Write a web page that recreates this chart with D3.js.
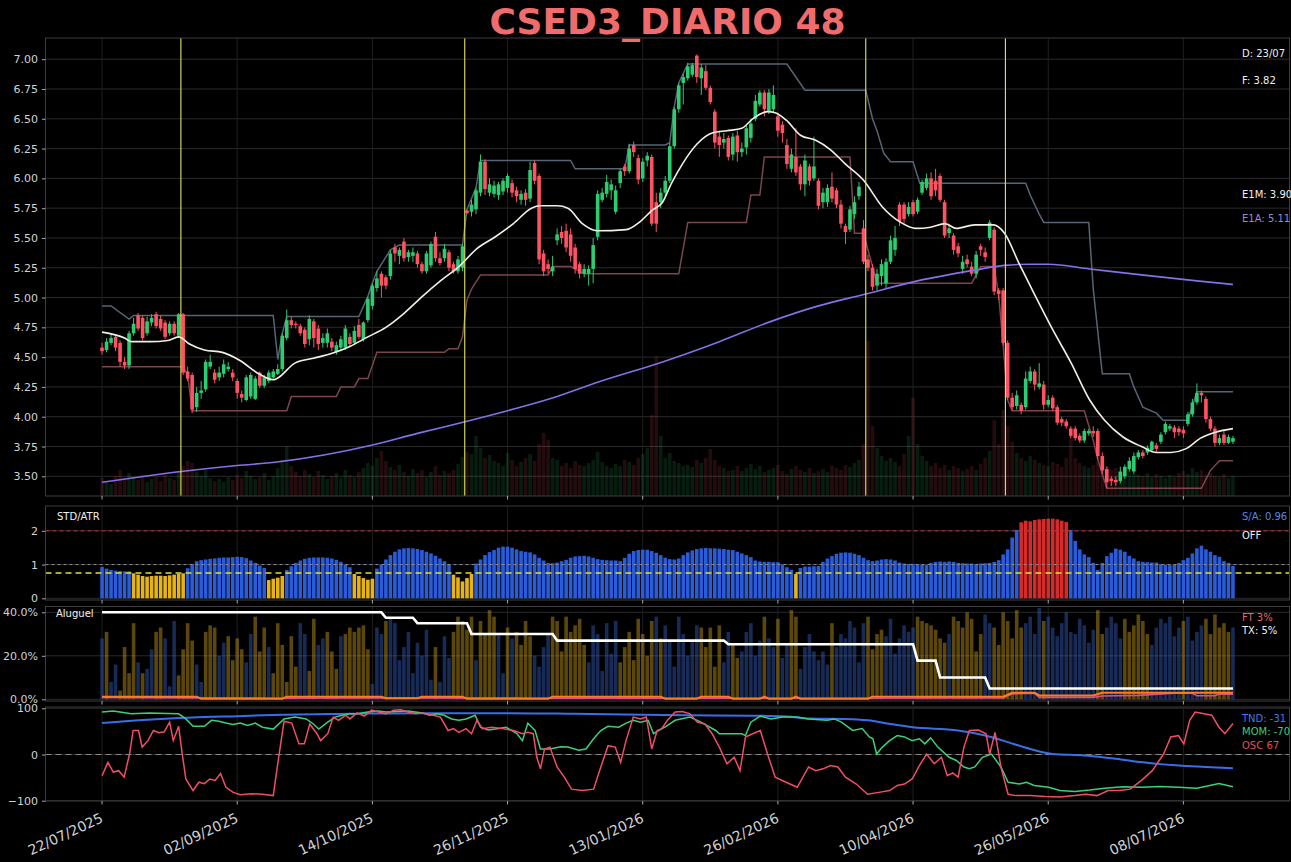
<!DOCTYPE html>
<html><head><meta charset="utf-8">
<script src="https://cdn.jsdelivr.net/npm/d3@7"></script>
<style>html,body{margin:0;padding:0;background:#000;}svg{display:block;}</style>
</head><body><div id="chart"></div>
<script>
// ---------------- DATA ----------------
const tickIdx = [0,30,60,90,120,150,180,210,240];
const tickLabels = ["22/07/2025","02/09/2025","14/10/2025","26/11/2025","13/01/2026","26/02/2026","10/04/2026","26/05/2026","08/07/2026"];
const signalIdx = [17.5, 80.5, 169.5, 200.5];

const open = [
4.58,4.56,4.62,4.67,4.62,4.46,4.43,4.70,4.85,4.83,
4.70,4.79,4.86,4.82,4.79,4.70,4.78,4.68,4.86,4.38,
4.35,4.08,4.20,4.23,4.42,4.37,4.33,4.36,4.40,4.37,
4.30,4.19,4.14,4.17,4.15,4.37,4.26,4.30,4.33,4.36,
4.40,4.66,4.81,4.78,4.76,4.73,4.65,4.80,4.74,4.62,
4.62,4.63,4.54,4.58,4.58,4.67,4.62,4.77,4.65,4.81,
4.93,5.08,5.20,5.17,5.18,5.42,5.35,5.47,5.34,5.35,
5.37,5.28,5.22,5.27,5.51,5.33,5.33,5.38,5.28,5.22,
5.25,5.73,5.72,5.74,5.88,6.14,5.88,5.87,5.86,5.89,
5.92,5.96,5.90,5.82,5.88,5.83,6.13,6.02,5.37,5.28,
5.22,5.48,5.55,5.56,5.53,5.42,5.28,5.20,5.20,5.24,
5.51,5.82,5.87,5.90,5.72,5.96,6.10,6.06,6.28,6.17,
6.00,6.15,6.18,5.80,5.80,5.88,5.98,6.27,6.58,6.80,
6.84,6.87,7.03,6.84,6.90,6.76,6.56,6.35,6.30,6.34,
6.20,6.36,6.22,6.26,6.34,6.50,6.62,6.72,6.56,6.58,
6.52,6.45,6.28,6.08,6.18,6.10,5.95,6.10,6.00,5.98,
5.80,5.80,5.93,5.90,5.78,5.60,5.57,5.70,5.85,5.58,
5.32,5.25,5.10,5.18,5.12,5.30,5.40,5.78,5.78,5.70,
5.80,5.72,5.88,5.92,6.00,5.98,6.02,5.80,5.54,5.52,
5.43,5.24,5.32,5.26,5.20,5.43,5.38,5.50,5.57,5.06,
5.06,4.62,4.16,4.09,4.10,4.08,4.30,4.38,4.25,4.27,
4.10,4.16,4.08,3.98,3.96,3.90,3.90,3.84,3.80,3.86,
3.88,3.88,3.67,3.56,3.48,3.47,3.46,3.50,3.56,3.54,
3.66,3.70,3.70,3.72,3.76,3.79,3.87,3.90,3.91,3.90,
3.89,3.94,4.02,4.12,4.20,4.15,3.98,3.90,3.78,3.85,
3.78,3.79];
const high = [
4.62,4.66,4.70,4.69,4.64,4.50,4.72,4.83,4.87,4.85,
4.84,4.86,4.88,4.85,4.81,4.80,4.80,4.87,4.87,4.42,
4.37,4.25,4.30,4.48,4.52,4.40,4.42,4.48,4.46,4.40,
4.32,4.22,4.35,4.37,4.34,4.38,4.35,4.39,4.40,4.44,
4.70,4.90,4.84,4.80,4.78,4.75,4.85,4.82,4.77,4.70,
4.74,4.66,4.63,4.68,4.77,4.70,4.76,4.82,4.80,5.01,
5.12,5.22,5.22,5.19,5.40,5.45,5.42,5.50,5.40,5.42,
5.39,5.30,5.39,5.47,5.55,5.38,5.45,5.40,5.30,5.35,
5.45,5.74,5.82,5.92,6.20,6.16,6.00,5.98,5.97,6.00,
6.04,5.99,5.93,5.90,5.91,6.14,6.15,6.04,5.40,5.32,
5.35,5.58,5.60,5.62,5.58,5.45,5.30,5.28,5.27,5.50,
5.90,5.92,6.03,5.99,5.94,6.08,6.12,6.29,6.31,6.20,
6.17,6.22,6.20,5.88,5.92,6.02,6.30,6.60,6.80,6.88,
6.97,6.97,7.04,6.96,6.95,6.78,6.58,6.40,6.38,6.36,
6.38,6.40,6.30,6.44,6.50,6.70,6.74,6.74,6.75,6.78,
6.55,6.48,6.33,6.25,6.42,6.12,6.20,6.12,6.35,6.00,
5.92,5.95,6.05,5.92,5.82,5.62,5.77,5.85,5.97,5.65,
5.36,5.28,5.24,5.32,5.33,5.52,5.60,5.80,5.80,5.80,
5.82,5.84,5.99,6.04,6.05,6.08,6.04,5.82,5.62,5.54,
5.46,5.35,5.36,5.30,5.39,5.45,5.42,5.65,5.59,5.08,
5.08,4.64,4.20,4.22,4.12,4.38,4.42,4.40,4.45,4.30,
4.18,4.18,4.10,4.00,3.98,3.92,3.92,3.86,3.90,3.90,
3.92,3.90,3.70,3.58,3.50,3.50,3.58,3.60,3.66,3.70,
3.72,3.72,3.76,3.80,3.78,3.87,3.96,3.94,3.93,3.92,
3.92,4.04,4.15,4.28,4.22,4.17,4.00,3.92,3.85,3.88,
3.85,3.84];
const low = [
4.52,4.54,4.60,4.55,4.42,4.40,4.40,4.68,4.72,4.64,
4.68,4.76,4.74,4.72,4.65,4.68,4.68,4.66,4.35,4.30,
4.03,4.04,4.15,4.21,4.40,4.28,4.30,4.33,4.38,4.30,
4.15,4.12,4.13,4.15,4.14,4.24,4.24,4.28,4.31,4.35,
4.38,4.64,4.74,4.74,4.68,4.58,4.60,4.58,4.56,4.58,
4.58,4.55,4.52,4.55,4.56,4.59,4.60,4.65,4.63,4.79,
4.90,5.05,5.00,5.07,5.15,5.30,5.28,5.30,5.30,5.30,
5.25,5.20,5.20,5.25,5.30,5.27,5.30,5.22,5.20,5.20,
5.22,5.70,5.68,5.70,5.85,5.86,5.85,5.84,5.82,5.86,
5.88,5.84,5.80,5.78,5.77,5.80,5.95,5.28,5.18,5.20,
5.18,5.44,5.45,5.38,5.30,5.20,5.16,5.17,5.10,5.12,
5.48,5.80,5.84,5.82,5.70,5.92,6.02,6.04,6.18,5.95,
5.97,6.10,5.60,5.55,5.75,5.85,5.96,6.25,6.55,6.62,
6.82,6.85,6.80,6.70,6.74,6.62,6.25,6.18,6.25,6.15,
6.15,6.14,6.18,6.20,6.30,6.48,6.60,6.52,6.54,6.55,
6.35,6.30,6.08,6.05,6.02,5.90,5.85,5.94,5.98,5.74,
5.75,5.76,5.80,5.75,5.58,5.45,5.55,5.66,5.82,5.28,
5.22,5.06,5.06,5.10,5.08,5.28,5.35,5.60,5.62,5.68,
5.68,5.70,5.86,5.90,5.82,5.85,5.80,5.50,5.50,5.36,
5.34,5.20,5.25,5.18,5.16,5.35,5.30,5.48,5.02,4.98,
4.60,4.14,4.05,4.06,4.02,4.06,4.28,4.22,4.23,4.06,
4.08,4.05,3.93,3.92,3.90,3.82,3.80,3.78,3.78,3.84,
3.83,3.64,3.52,3.40,3.42,3.42,3.44,3.48,3.54,3.52,
3.64,3.65,3.68,3.70,3.70,3.77,3.85,3.88,3.82,3.84,
3.82,3.92,4.00,4.10,4.12,3.95,3.88,3.75,3.76,3.76,
3.77,3.77];
const close = [
4.55,4.63,4.66,4.58,4.46,4.43,4.70,4.78,4.74,4.66,
4.80,4.83,4.76,4.74,4.67,4.78,4.70,4.86,4.37,4.32,
4.06,4.20,4.22,4.46,4.46,4.31,4.37,4.44,4.42,4.33,
4.20,4.16,4.33,4.35,4.32,4.26,4.33,4.37,4.38,4.40,
4.68,4.81,4.77,4.77,4.70,4.61,4.82,4.66,4.61,4.66,
4.70,4.58,4.60,4.65,4.74,4.61,4.72,4.67,4.79,4.99,
5.10,5.16,5.10,5.10,5.37,5.37,5.40,5.33,5.38,5.38,
5.28,5.22,5.37,5.45,5.33,5.29,5.41,5.25,5.22,5.32,
5.43,5.71,5.78,5.90,6.14,5.91,5.95,5.94,5.95,5.98,
6.02,5.88,5.85,5.87,5.82,6.07,5.98,5.32,5.22,5.24,
5.26,5.53,5.50,5.42,5.35,5.24,5.20,5.24,5.24,5.44,
5.87,5.88,5.97,5.95,5.90,6.06,6.06,6.25,6.22,5.99,
6.14,6.19,5.62,5.62,5.88,5.98,6.27,6.58,6.78,6.85,
6.94,6.95,6.85,6.93,6.76,6.64,6.30,6.28,6.33,6.18,
6.35,6.22,6.25,6.42,6.46,6.65,6.72,6.58,6.72,6.70,
6.40,6.38,6.12,6.20,6.05,5.95,6.15,5.98,6.10,5.77,
5.88,5.92,5.83,5.78,5.62,5.55,5.74,5.80,5.93,5.30,
5.25,5.09,5.20,5.28,5.30,5.48,5.50,5.64,5.66,5.76,
5.70,5.82,5.97,6.00,5.85,5.90,5.82,5.52,5.58,5.40,
5.37,5.30,5.28,5.20,5.36,5.40,5.34,5.63,5.05,5.03,
4.62,4.16,4.08,4.18,4.05,4.32,4.38,4.27,4.28,4.10,
4.14,4.07,3.95,3.95,3.92,3.84,3.82,3.80,3.88,3.88,
3.86,3.67,3.55,3.45,3.46,3.45,3.54,3.58,3.63,3.67,
3.70,3.67,3.74,3.79,3.73,3.85,3.94,3.92,3.87,3.87,
3.86,4.02,4.12,4.20,4.18,3.98,3.90,3.78,3.82,3.78,
3.83,3.82];
const volume = [
180,150,120,200,260,170,230,190,160,210,
140,170,190,150,220,180,160,250,300,350,
330,240,200,260,180,150,170,140,190,160,
210,180,250,200,170,190,230,160,200,280,
360,500,300,240,200,260,220,190,250,210,
170,200,230,180,260,210,190,240,280,330,
300,380,450,350,290,260,310,240,200,270,
230,260,190,240,300,210,250,230,260,320,
390,440,420,600,480,380,410,350,330,300,
430,360,300,340,380,420,350,520,630,560,
380,360,300,330,280,350,310,300,330,360,
440,340,300,280,320,300,360,340,310,380,
420,480,810,1400,600,380,430,350,330,300,
310,290,360,330,380,470,360,300,280,250,
260,300,250,280,320,270,300,240,260,280,
310,250,220,270,300,260,240,280,230,250,
270,240,300,280,260,310,290,330,360,520,
1550,700,480,400,350,380,340,300,420,600,
980,520,400,350,300,330,280,310,260,300,
280,250,270,300,260,320,380,450,760,520,
860,700,540,430,380,350,400,360,330,310,
300,340,320,290,380,690,380,330,300,280,
310,350,380,300,260,280,240,230,250,220,
210,200,230,190,220,200,180,210,190,230,
250,220,280,240,260,210,230,200,190,220,
180,200];

// E1M (monthly EMA) and E1A (yearly EMA): [bar index, price]
const e1mPts = [[0,4.71],[5,4.66],[6.5,4.63],[10.5,4.63],[14.6,4.64],[17,4.67],[19.4,4.61],[22.7,4.56],[26.7,4.54],[30.7,4.47],[34.8,4.36],[38,4.31],[38.8,4.32],[42.8,4.45],[46.9,4.49],[50.9,4.53],[55,4.59],[59,4.67],[63,4.75],[67.1,4.87],[71.1,5.01],[75.1,5.14],[79.2,5.26],[83.2,5.41],[87.3,5.51],[91.3,5.62],[95.3,5.75],[97.3,5.77],[101,5.77],[103.4,5.75],[106.6,5.62],[109.9,5.56],[116.3,5.57],[119.5,5.64],[122,5.73],[124.4,5.80],[126.4,5.96],[128.8,6.12],[132.1,6.29],[135.4,6.38],[138.7,6.40],[142,6.42],[144.4,6.50],[147.7,6.56],[149.4,6.55],[151.8,6.49],[155.1,6.36],[158.4,6.32],[161.7,6.24],[165,6.12],[169.1,5.98],[173.2,5.76],[177.3,5.63],[180.6,5.58],[183.9,5.59],[187.1,5.62],[189.6,5.58],[193.7,5.61],[197.8,5.61],[200.3,5.54],[203.6,5.28],[206.9,5.03],[211,4.73],[215.1,4.45],[219.2,4.14],[222.5,3.97],[226.6,3.83],[230.7,3.75],[234,3.70],[237.2,3.70],[240.5,3.73],[243.8,3.82],[247.1,3.87],[251,3.90]];
const e1aPts = [[0,3.45],[17.6,3.54],[30,3.59],[38.8,3.62],[59.8,3.76],[70,3.86],[80.8,3.96],[90,4.05],[99.4,4.15],[110,4.29],[124.4,4.46],[137,4.63],[148.5,4.80],[159,4.93],[169.5,5.03],[181,5.14],[193.7,5.23],[200.3,5.27],[206,5.28],[210,5.28],[219.2,5.24],[230.7,5.19],[243,5.14],[251,5.11]];
const upperPts = [[0,4.93],[2,4.93],[6,4.82],[7,4.85],[38,4.85],[39,4.48],[40,4.70],[41,4.84],[57,4.84],[59,5.01],[60,5.12],[61,5.22],[64,5.40],[66,5.44],[80,5.44],[81,5.74],[83,5.92],[84,6.15],[104,6.15],[105,6.08],[116,6.08],[117,6.28],[125,6.28],[126,6.30],[127,6.60],[128,6.80],[130,6.96],[152,6.96],[156,6.74],[169.5,6.74],[171,6.50],[172,6.40],[173.5,6.21],[175,6.14],[180,6.14],[181.5,5.96],[205,5.96],[206,5.86],[208,5.70],[209,5.63],[219,5.63],[220,5.07],[222,4.36],[228,4.36],[229,4.25],[231,4.08],[234,4.03],[235.5,3.97],[241,3.97],[243,4.21],[251,4.21]];
const lowerPts = [[0,4.42],[18,4.42],[19,4.35],[20,4.05],[41,4.05],[42,4.17],[52,4.17],[53,4.25],[56,4.25],[57,4.32],[59,4.32],[61,4.54],[76,4.54],[77,4.57],[79,4.57],[80,4.67],[81,4.98],[82,5.07],[84,5.19],[99,5.19],[100,5.26],[104,5.26],[107,5.20],[128,5.20],[130,5.63],[143,5.63],[144,5.86],[146,5.86],[147,6.18],[166,6.18],[167,5.54],[169,5.54],[172,5.12],[193,5.12],[195,5.26],[198,5.26],[199,5.02],[200,4.60],[201,4.14],[202,4.05],[218,4.05],[220,3.80],[221,3.64],[222,3.52],[223,3.40],[244,3.40],[246,3.55],[248,3.63],[251,3.63]];

// STD/ATR panel
const stdAtr = [
0.93,0.88,0.84,0.82,0.81,0.80,0.80,0.74,0.70,0.66,
0.64,0.66,0.67,0.67,0.66,0.68,0.70,0.72,0.74,0.89,
1.02,1.10,1.13,1.15,1.17,1.18,1.20,1.21,1.21,1.22,
1.23,1.22,1.19,1.12,1.05,0.97,0.90,0.54,0.58,0.61,
0.66,0.84,0.95,1.05,1.12,1.17,1.20,1.21,1.21,1.21,
1.20,1.18,1.14,1.08,1.00,0.92,0.72,0.66,0.60,0.55,
0.58,0.88,1.00,1.15,1.28,1.38,1.45,1.48,1.49,1.48,
1.46,1.43,1.38,1.33,1.26,1.18,1.10,1.00,0.70,0.62,
0.50,0.60,0.72,1.03,1.15,1.28,1.37,1.43,1.50,1.53,
1.53,1.50,1.45,1.40,1.38,1.36,1.30,1.20,1.12,1.05,
1.04,1.06,1.10,1.14,1.20,1.24,1.25,1.26,1.24,1.20,
1.16,1.14,1.13,1.12,1.12,1.10,1.20,1.32,1.40,1.43,
1.44,1.44,1.40,1.35,1.28,1.20,1.16,1.15,1.18,1.28,
1.36,1.42,1.46,1.48,1.49,1.48,1.48,1.47,1.46,1.44,
1.43,1.38,1.33,1.28,1.22,1.12,1.09,1.08,1.08,1.07,
1.07,1.00,0.92,0.85,0.72,0.90,0.94,0.94,0.95,0.96,
1.08,1.18,1.25,1.32,1.35,1.36,1.35,1.32,1.28,1.20,
1.13,1.10,1.12,1.15,1.16,1.15,1.12,1.06,1.03,1.02,
1.02,1.01,1.00,0.99,1.05,1.08,1.09,1.08,1.09,1.08,
1.05,1.04,1.03,1.03,1.02,1.03,1.04,1.05,1.08,1.13,
1.30,1.45,1.80,2.03,2.25,2.30,2.28,2.32,2.34,2.35,
2.36,2.36,2.34,2.30,2.26,2.03,1.70,1.45,1.30,1.22,
1.05,0.84,1.05,1.25,1.35,1.47,1.44,1.38,1.26,1.18,
1.10,1.08,1.07,1.06,1.06,1.02,0.99,0.98,0.99,1.05,
1.13,1.20,1.33,1.48,1.56,1.45,1.38,1.28,1.23,1.10,
1.05,0.96];

// Aluguel panel (percent)
const aluguel = [
28,31,8,16,4,24,12,35,17,12, 14,23,31,33,28,6,36,11,23,35,
27,16,8,31,34,33,20,26,29,18, 28,23,17,30,38,22,33,24,12,35,
25,8,29,15,35,30,13,37,25,28, 31,22,14,29,30,33,31,33,34,23,
7,33,30,36,37,35,18,24,31,12, 26,20,32,9,24,8,29,19,31,38,
36,32,38,18,36,30,41,38,30,12, 33,28,31,25,36,29,20,15,24,30,
38,36,22,38,31,34,37,25,17,34, 30,13,35,21,36,17,24,31,18,37,
30,20,36,38,28,34,27,15,38,30, 20,27,34,33,24,33,15,34,17,31,
25,19,22,31,35,20,27,38,28,24, 37,19,25,41,38,14,24,30,22,18,
22,16,35,24,30,28,36,33,17,35, 38,23,30,32,29,37,21,28,34,31,
33,38,36,35,34,32,28,26,30,38, 36,33,40,37,22,30,39,35,33,25,
40,36,28,41,33,35,38,30,42,36, 38,33,29,35,40,31,30,37,34,26,
32,41,30,33,38,35,28,37,31,34, 39,36,30,25,33,37,35,38,29,33,
36,38,27,31,34,37,30,39,33,35, 31,33];
const aluguelColor = ("bybbyyyyby"+"bbyybbbyyy"+"ybbyyybbyy"+"yybbyyybyy"+"yyyybbyybb"+"yyybyyyyyy"+
  "bbbybbbbbb"+"bbbbybbbyy"+"yyybyyyybb"+"ybyyyybbbb"+"yyyyyyyybb"+"bbbbbyyyyy"+"yyybybbbbb"+
  "bbbyyyyybb"+"yybbbbbybb"+"ybbyybbbbb"+"bbybbbbbbb"+"yyyybbbbbb"+"byyyyyyyby"+"yyyyyybbyy"+
  "yyyyybbbby"+"bbbbbbbbbb"+"byybbbbyyy"+"yyybbbbbbb"+"ybbbbyyyyy"+"yb").split('');
const txPts = [[0,40],[62,40],[63,37.5],[69,37.5],[70,35],[81,35],[82,30],[100,30],[101,27],[138,27],[139,25.3],[180,25.3],[181,17.8],[185,17.8],[186,10],[196,10],[197,5],[251,5]];
const ftPts = [[0,1.2],[21,1.2],[22,0.3],[40,0.3],[41,1.2],[62,1.2],[63,0.5],[70,0.5],[71,1.2],[80,1.2],[81,0.3],[99,0.3],[100,1.2],[124,1.2],[125,0.3],[132,0.3],[133,1.2],[139,1.2],[140,0.3],[146,0.3],[147,1.2],[148,0.3],[153,0.3],[154,1.2],[155,0.3],[170,0.3],[171,1.2],[200,1.2],[202,3.0],[207,3.0],[208,1.8],[220,1.8],[222,3.0],[251,3.0]];
const pinkPts = [[0,0.8],[40,0.5],[60,0.6],[100,0.5],[150,0.5],[200,0.6],[202,2.5],[207,2.8],[208,0.9],[220,0.9],[222,1.5],[230,1.8],[238,2.8],[242,2.8],[243,1.6],[247,1.6],[248,2.4],[251,2.4]];

// Oscillator panel
const tndPts = [[0,68],[10,75],[20,80],[30,83],[40,86],[55,88],[70,89.5],[90,89.5],[105,88],[120,86],[130,85],[145,84],[152,82],[157,78],[165,77],[170,74],[175,66],[180,59],[190,52],[196,41],[200,30],[206,12],[211,1],[218,-2],[225,-9],[231,-17],[239,-24],[245,-27],[251,-30]];
const momPts = [[0,92],[2.5,94],[6.5,88],[10.6,90],[14.6,89],[17,88],[18.6,77],[20.2,61],[22.7,61],[24.3,74],[25.9,72],[27.5,68],[29.1,65],[30.7,68],[32.3,63],[34,68],[35.6,59],[38,55],[40.4,77],[42.8,81],[45.3,77],[46.9,66],[48.1,55],[50.1,70],[51.7,81],[53.3,85],[55,88],[56.6,88],[59,92],[61.4,94],[63,92],[65.5,93],[67.9,94],[71.1,90],[72.7,85],[74.3,88],[75.9,85],[77.6,77],[79.2,74],[80.8,77],[82.8,85],[84,59],[85.7,53],[87.3,55],[89.7,59],[92.1,45],[93.3,30],[94.5,68],[96.1,52],[97.3,12],[99.4,12],[101.8,17],[103.4,16],[105.8,9],[107.4,12],[109.1,34],[110.7,52],[112.3,61],[114.7,59],[116.3,68],[117.9,74],[119.5,70],[121.2,74],[122.4,45],[123.6,52],[125,60],[127.2,74],[130.5,81],[132.9,70],[136.2,52],[137,45],[142,45],[142.8,41],[144,70],[146.1,83],[148.5,77],[151,81],[154.3,81],[156.8,77],[160.9,74],[162.5,77],[164.1,70],[166.6,52],[168.7,56],[170.3,38],[171.1,34],[171.9,1],[173.2,16],[174.8,30],[176.5,41],[178.1,38],[179.8,30],[181.4,34],[182.6,23],[183.9,36],[185.5,16],[188,-6],[189.6,-13],[191.3,-27],[192.5,-31],[193.7,-27],[195.4,-6],[197.4,1],[199.5,-27],[201.1,-60],[203.6,-64],[205.2,-60],[206.9,-67],[210.1,-71],[212.6,-78],[215.9,-80],[219.2,-77],[222.5,-73],[226.6,-70],[230.7,-71],[234.8,-69],[238.9,-71],[243,-73],[247.9,-63],[251,-70]];
const oscPts = [[0,-46],[1.3,-17],[2.5,-38],[3.7,-35],[4.9,-49],[6.1,1],[6.9,52],[8.1,52],[8.9,16],[10.2,30],[11.4,52],[12.6,47],[13.8,49],[15,70],[15.8,30],[17,61],[17.8,1],[18.6,-53],[20.2,-78],[21.5,-60],[22.7,-63],[23.9,-53],[25.1,-56],[26.3,-41],[27.5,-71],[29.1,-82],[30.7,-87],[33.2,-85],[35.6,-86],[38,-89],[39.2,-6],[40.4,72],[42.1,68],[43.7,23],[44.9,23],[46.1,66],[47.7,45],[48.5,30],[50.1,45],[51.3,81],[52.5,74],[54.1,85],[55,77],[56.6,90],[58.2,83],[59.8,96],[61.4,92],[63,88],[64.7,96],[66.3,97],[67.9,92],[69.5,88],[71.1,90],[73.5,85],[75.1,81],[76.8,52],[78,56],[79.2,48],[80.8,56],[82,45],[83.2,74],[84.4,56],[86.5,59],[88.9,56],[91.3,52],[93.3,45],[94.5,48],[95.7,45],[96.5,-6],[97.3,-31],[98.2,12],[99.4,16],[101,-27],[102.6,-49],[104.2,-75],[106.6,-78],[109.1,-75],[110.7,-27],[112.3,19],[113.9,16],[115.1,-17],[116.3,30],[117.9,81],[119.5,77],[120.8,81],[122,12],[123.2,52],[124.2,56],[125.5,74],[127.2,92],[128.8,93],[130.5,88],[132.1,70],[133.8,66],[135.4,45],[137,16],[138.7,-20],[140.3,-6],[141.6,-35],[142.8,38],[144.4,45],[146.1,52],[147.7,1],[149.4,-49],[151.8,-60],[154.3,-71],[156.8,-27],[158.4,-35],[160,-31],[161.7,-24],[163.3,-27],[165,-49],[167.4,-64],[169.9,-86],[172.4,-82],[174.8,-78],[176.5,-67],[178.1,-64],[179.8,-53],[181.4,-24],[183,1],[184.7,-20],[186.3,-6],[187.6,-46],[188.8,-40],[190,-49],[191.3,16],[192.5,52],[194.5,53],[196.2,45],[197,1],[198.2,48],[199.5,-27],[201.1,-86],[202.8,-89],[206,-89],[209.3,-91],[212.6,-92],[215.9,-89],[218.4,-86],[220.8,-89],[223.3,-78],[225.8,-78],[228.2,-75],[230.7,-56],[233.1,-35],[235.6,1],[237.2,38],[238.9,41],[240.1,23],[241.4,74],[242.6,92],[244.6,88],[246.3,85],[247.9,59],[249.2,45],[251,67]];

// ---------------- DRAWING ----------------
const W = 1291, H = 862, X0 = 45.5, X1 = 1289.5;
const FONT = "DejaVu Sans, sans-serif";
const P = {
  main: {top: 38, bottom: 496},
  std:  {top: 506, bottom: 600},
  alu:  {top: 606.5, bottom: 701},
  osc:  {top: 707, bottom: 801}
};
const N = close.length;
const idx = d3.range(N);
const x = d3.scaleLinear().domain([-12.55, 263.55]).range([X0, X1]);
const bw = (x(1) - x(0)) * 0.8;
const yMain = d3.scaleLinear().domain([3.5, 7.0]).range([476.3, 59.2]);
const yVol = d3.scaleLinear().domain([0, 1600]).range([P.main.bottom, P.main.bottom - 160]);
const yStd = d3.scaleLinear().domain([0, 2]).range([598.3, 530.8]);
const yAlu = d3.scaleLinear().domain([0, 40]).range([699.3, 612.3]);
const yOsc = d3.scaleLinear().domain([-100, 100]).range([800.7, 708.3]);

const svg = d3.select('#chart').append('svg').attr('width', W).attr('height', H);
svg.append('rect').attr('width', W).attr('height', H).attr('fill', '#000');
const defs = svg.append('defs');
Object.entries(P).forEach(([k, p]) => {
  defs.append('clipPath').attr('id', 'clip-' + k).append('rect')
    .attr('x', X0).attr('y', p.top).attr('width', X1 - X0).attr('height', p.bottom - p.top);
});

// grids + frames + axes
function panelBase(key, yScale, yTicks, fmt) {
  const p = P[key];
  const g = svg.append('g');
  const gg = g.append('g').attr('clip-path', `url(#clip-${key})`);
  gg.selectAll('line.hg').data(yTicks).join('line')
    .attr('x1', X0).attr('x2', X1).attr('y1', d => yScale(d)).attr('y2', d => yScale(d))
    .attr('stroke', '#2a2a2a').attr('stroke-width', 1);
  gg.selectAll('line.vg').data(tickIdx).join('line')
    .attr('x1', d => x(d)).attr('x2', d => x(d)).attr('y1', p.top).attr('y2', p.bottom)
    .attr('stroke', '#1f1f1f').attr('stroke-width', 1);
  g.append('rect').attr('x', X0).attr('y', p.top).attr('width', X1 - X0).attr('height', p.bottom - p.top)
    .attr('fill', 'none').attr('stroke', '#3c3c3c').attr('stroke-width', 1);
  const ax = g.append('g').attr('transform', `translate(${X0},0)`)
    .call(d3.axisLeft(yScale).tickValues(yTicks).tickFormat(fmt).tickSize(3.5).tickPadding(4));
  ax.select('.domain').remove();
  ax.selectAll('line').attr('stroke', '#aaa');
  ax.selectAll('text').attr('fill', '#d2d2d2').attr('font-family', FONT).attr('font-size', 11);
  g.selectAll('line.bt').data(tickIdx).join('line')
    .attr('x1', d => x(d)).attr('x2', d => x(d)).attr('y1', p.bottom).attr('y2', p.bottom + 3.5)
    .attr('stroke', '#aaa').attr('stroke-width', 1);
  return gg;
}

const gMain = panelBase('main', yMain, d3.range(3.5, 7.001, 0.25), d3.format('.2f'));
const gStd = panelBase('std', yStd, [0, 1, 2], d3.format('d'));
const gAlu = panelBase('alu', yAlu, [0, 20, 40], d => d.toFixed(1) + '%');
const gOsc = panelBase('osc', yOsc, [-100, 0, 100], d3.format('d'));

const GREEN = '#2ecc71', RED = '#ff5263';
const up = i => close[i] >= open[i];

// volume
gMain.append('g').selectAll('rect').data(idx).join('rect')
  .attr('x', i => x(i) - bw / 2).attr('width', bw)
  .attr('y', i => yVol(volume[i])).attr('height', i => yVol(0) - yVol(volume[i]))
  .attr('fill', i => up(i) ? GREEN : RED).attr('opacity', 0.14);

const lineP = (ys, curve) => d3.line().x(d => x(d[0])).y(d => ys(d[1])).curve(curve || d3.curveLinear);

// channels
gMain.append('path').datum(upperPts).attr('d', lineP(yMain)).attr('fill', 'none')
  .attr('stroke', '#556575').attr('stroke-width', 1.5);
gMain.append('path').datum(lowerPts).attr('d', lineP(yMain)).attr('fill', 'none')
  .attr('stroke', '#7a474d').attr('stroke-width', 1.5);

// candles
const gc = gMain.append('g');
gc.selectAll('line').data(idx).join('line')
  .attr('x1', i => x(i)).attr('x2', i => x(i))
  .attr('y1', i => yMain(high[i])).attr('y2', i => yMain(low[i]))
  .attr('stroke', i => up(i) ? GREEN : RED).attr('stroke-width', 1);
gc.selectAll('rect').data(idx).join('rect')
  .attr('x', i => x(i) - bw / 2).attr('width', bw)
  .attr('y', i => yMain(Math.max(open[i], close[i])))
  .attr('height', i => Math.max(1, Math.abs(yMain(open[i]) - yMain(close[i]))))
  .attr('fill', i => up(i) ? GREEN : RED);

// moving averages
gMain.append('path').datum(e1aPts).attr('d', lineP(yMain, d3.curveMonotoneX)).attr('fill', 'none')
  .attr('stroke', '#8a6ee8').attr('stroke-width', 1.6);
gMain.append('path').datum(e1mPts).attr('d', lineP(yMain, d3.curveMonotoneX)).attr('fill', 'none')
  .attr('stroke', '#f2f0e4').attr('stroke-width', 1.6);

// signal lines
gMain.selectAll('line.sig').data(signalIdx).join('line')
  .attr('x1', d => x(d)).attr('x2', d => x(d)).attr('y1', P.main.top).attr('y2', P.main.bottom)
  .attr('stroke', '#e4e45c').attr('stroke-width', 1.1);

// STD/ATR bars
gStd.append('g').selectAll('rect').data(idx).join('rect')
  .attr('x', i => x(i) - bw / 2).attr('width', bw)
  .attr('y', i => yStd(stdAtr[i])).attr('height', i => yStd(0) - yStd(stdAtr[i]))
  .attr('fill', i => stdAtr[i] > 2.05 ? '#d42a2a' : (stdAtr[i] < 0.75 ? '#e6b417' : '#2a5bd8'));
const hl = (g, ys, v, color, dash, w) => g.append('line').attr('x1', X0).attr('x2', X1)
  .attr('y1', ys(v)).attr('y2', ys(v)).attr('stroke', color).attr('stroke-dasharray', dash).attr('stroke-width', w);
hl(gStd, yStd, 2, '#b83640', '4,3', 1);
hl(gStd, yStd, 1, '#8a8a8a', '3,3', 1);
hl(gStd, yStd, 0.75, '#e2e03a', '6,4', 1.4);

// Aluguel bars + lines
gAlu.append('g').selectAll('rect').data(idx).join('rect')
  .attr('x', i => x(i) - bw / 2).attr('width', bw)
  .attr('y', i => yAlu(aluguel[i])).attr('height', i => yAlu(0) - yAlu(aluguel[i]))
  .attr('fill', i => aluguelColor[i] === 'y' ? '#d9a81a' : '#3a64cc').attr('opacity', 0.42);
gAlu.append('path').datum(pinkPts).attr('d', lineP(yAlu)).attr('fill', 'none').attr('stroke', '#d8508a').attr('stroke-width', 1.6);
gAlu.append('path').datum(ftPts).attr('d', lineP(yAlu)).attr('fill', 'none').attr('stroke', '#ff7a22').attr('stroke-width', 2);
gAlu.append('path').datum(txPts).attr('d', lineP(yAlu)).attr('fill', 'none').attr('stroke', '#ffffff').attr('stroke-width', 2.6);

// Oscillators
hl(gOsc, yOsc, 0, '#8a8a8a', '6,4', 1.2);
gOsc.append('path').datum(tndPts).attr('d', lineP(yOsc, d3.curveMonotoneX)).attr('fill', 'none').attr('stroke', '#3a6ee6').attr('stroke-width', 2);
gOsc.append('path').datum(momPts).attr('d', lineP(yOsc)).attr('fill', 'none').attr('stroke', '#3ccf7a').attr('stroke-width', 1.5);
gOsc.append('path').datum(oscPts).attr('d', lineP(yOsc)).attr('fill', 'none').attr('stroke', '#f04e66').attr('stroke-width', 1.5);

// X axis labels
svg.append('g').selectAll('text').data(tickIdx).join('text')
  .attr('text-anchor', 'end').attr('dy', '0.35em')
  .attr('transform', d => `translate(${x(d)},817) rotate(-25)`)
  .attr('font-family', FONT).attr('font-size', 14).attr('fill', '#d2d2d2')
  .text((d, k) => tickLabels[k]);

// Title
svg.append('text').attr('x', 667.5).attr('y', 34).attr('text-anchor', 'middle')
  .attr('font-family', FONT).attr('font-weight', 'bold').attr('font-size', 36)
  .attr('fill', '#f06c6c').text('CSED3_DIARIO 48');

// In-panel labels
const labels = [
  ['D: 23/07', 1242, 56.5, '#f0f0f0'],
  ['F: 3.82', 1242, 84, '#f0f0f0'],
  ['E1M: 3.90', 1242, 198, '#f0f0f0'],
  ['E1A: 5.11', 1242, 221.5, '#9a88d6'],
  ['STD/ATR', 57, 519.5, '#f0f0f0'],
  ['S/A: 0.96', 1242, 519.5, '#5a86e0'],
  ['OFF', 1242, 538.5, '#f0f0f0'],
  ['Aluguel', 56, 616.5, '#f0f0f0'],
  ['FT 3%', 1242, 620.5, '#e56a6a'],
  ['TX: 5%', 1242, 634, '#f0f0f0'],
  ['TND: -31', 1242, 721.5, '#4a76e6'],
  ['MOM: -70', 1242, 735, '#3ccf7a'],
  ['OSC 67', 1242, 749, '#e0505a']
];
svg.append('g').selectAll('text').data(labels).join('text')
  .attr('x', d => d[1]).attr('y', d => d[2]).attr('fill', d => d[3])
  .attr('font-family', FONT).attr('font-size', 10).text(d => d[0]);
</script></body></html>
